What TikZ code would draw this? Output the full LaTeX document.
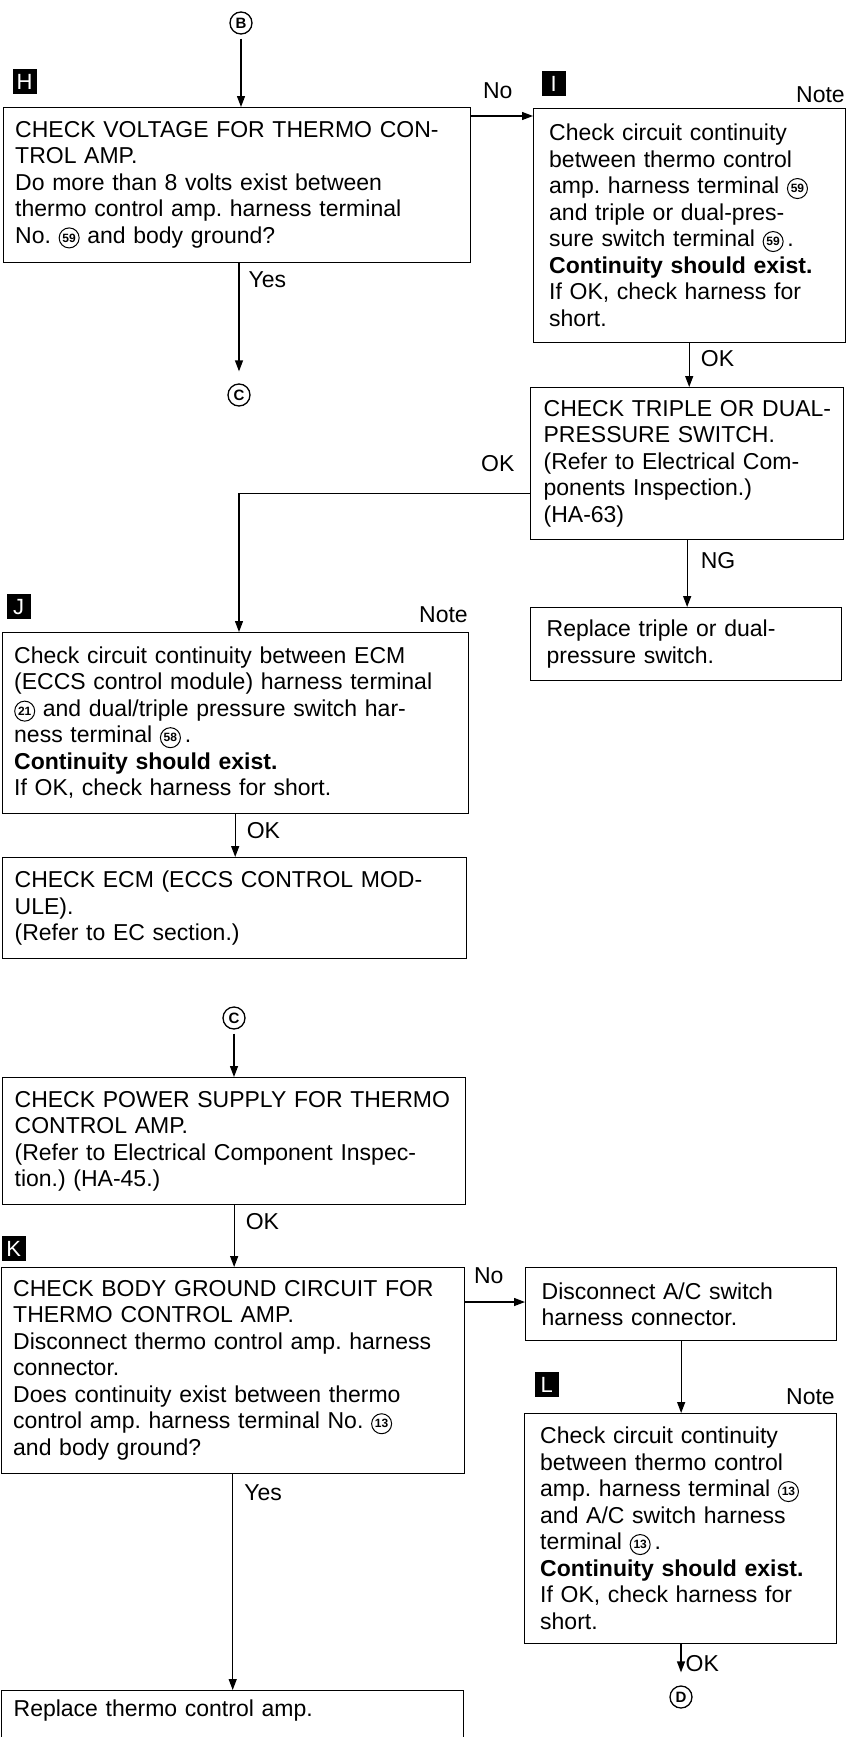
\documentclass[tikz,border=0pt]{standalone}
\usepackage{fontspec}
\setmainfont{Liberation Sans}
\usetikzlibrary{arrows.meta, positioning}
\frenchspacing
\newcommand{\cnum}[1]{\tikz[baseline={([yshift=-1pt]cn.base)}]\node[draw, circle, line width=1pt, inner sep=0pt, minimum size=20pt, text width=14pt, align=center, font=\fontsize{12}{12}\selectfont\bfseries] (cn) {#1};}
\tikzset{
  every picture/.style={line width=1.3pt},
  box/.style={draw, anchor=north west, align=left, text width=#1, inner xsep=12pt, inner ysep=0pt, font=\fontsize{23}{26.5}\selectfont},
  rbox/.style={box=#1, inner xsep=16pt},
  arrow/.style={-{Triangle[length=11pt, width=8pt]}},
  lbl/.style={font=\fontsize{23}{26.5}\selectfont, inner sep=0pt},
  tag/.style={fill=black, text=white, inner sep=0pt, minimum width=24pt, minimum height=25pt, font=\fontsize{22}{22}\selectfont},
  refmark/.style={draw, circle, inner sep=0pt, minimum size=22pt, font=\fontsize{15}{15}\selectfont\bfseries},
}

\begin{document}
\begin{tikzpicture}[x=1pt, y=-1pt]
  \useasboundingbox[fill=white] (0,0) rectangle (848,1737);

  % H: voltage check, No branch to I
  \node[refmark] (B) at (241,23) {B};
  \node[box=443pt, minimum height=155pt] (H) at (3,107) {CHECK VOLTAGE FOR THERMO CON-\\TROL AMP.\\Do more than 8 volts exist between\\thermo control amp. harness terminal\\No. \cnum{59} and body ground?};
  \node[tag, above right=12pt and 9pt of H.north west] (tagH) {H};
  \node[rbox=280pt, minimum height=234pt] (I) at (533,108) {Check circuit continuity\\between thermo control\\amp. harness terminal \cnum{59}\\and triple or dual-pres-\\sure switch terminal \cnum{59}\,.\\\textbf{Continuity should exist.}\\If OK, check harness for\\short.};
  \node[tag, above right=11pt and 8pt of I.north west] (tagI) {I};
  \node[lbl, above left=5pt and 0pt of I.north east] (noteI) {Note};
  \node[refmark] (C1) at (239,395) {C};

  % pressure switch and J
  \node[box=287pt, inner xsep=13pt, minimum height=152pt] (triple) at (530,387) {\mbox{CHECK TRIPLE OR DUAL-}\\PRESSURE SWITCH.\\(Refer to Electrical Com-\\ponents Inspection.)\\(HA-63)};
  \node[rbox=279pt, minimum height=73pt] (reptriple) at (530,607) {Replace triple or dual-\\pressure switch.};
  \node[box=442pt, minimum height=181pt] (J) at (2,632) {Check circuit continuity between ECM\\(ECCS control module) harness terminal\\\cnum{21} and dual/triple pressure switch har-\\ness terminal \cnum{58}\,.\\\textbf{Continuity should exist.}\\If OK, check harness for short.};
  \node[tag, above right=12pt and 4pt of J.north west] (tagJ) {J};
  \node[lbl, above left=9pt and 0pt of J.north east] (noteJ) {Note};
  \node[box=440pt, minimum height=101pt] (ECM) at (2,857) {CHECK ECM (ECCS CONTROL MOD-\\ULE).\\(Refer to EC section.)};

  % C: power supply, K and L
  \node[refmark] (C2) at (234,1018) {C};
  \node[box=439pt, minimum height=127pt] (power) at (2,1077) {\mbox{CHECK POWER SUPPLY FOR THERMO}\\CONTROL AMP.\\(Refer to Electrical Component Inspec-\\tion.) (HA-45.)};
  \node[box=439pt, minimum height=206pt] (K) at (1,1267) {CHECK BODY GROUND CIRCUIT FOR\\THERMO CONTROL AMP.\\Disconnect thermo control amp. harness\\connector.\\Does continuity exist between thermo\\control amp. harness terminal No. \cnum{13}\\and body ground?};
  \node[tag, above right=5pt and 0pt of K.north west] (tagK) {K};
  \node[rbox=279pt, minimum height=73pt] (disc) at (525,1267) {Disconnect A/C switch\\harness connector.};
  \node[rbox=280pt, minimum height=230pt] (L) at (524,1413) {Check circuit continuity\\between thermo control\\amp. harness terminal \cnum{13}\\and A/C switch harness\\terminal \cnum{13}\,.\\\textbf{Continuity should exist.}\\If OK, check harness for\\short.};
  \node[tag, above right=15pt and 10pt of L.north west] (tagL) {L};
  \node[lbl, above left=8pt and 1pt of L.north east] (noteL) {Note};
  \node[refmark] (D) at (681,1697) {D};
  \node[box=438pt, text height=26pt, text depth=60pt] (repamp) at (1,1690) {Replace thermo control amp.};

  % connectors
  \draw[arrow, shorten <=4pt] (B) -- (B |- H.north);
  \draw[arrow] ([yshift=-9pt]H.north east) -- node[lbl, pos=0, anchor=south west, xshift=12pt, yshift=17pt] (noH) {No} ([yshift=-9pt]H.north east -| I.west);
  \draw[arrow, shorten >=12pt] (H.south -| C1) -- node[lbl, right=9pt, pos=0.14] (yesH) {Yes} (C1.north);
  \draw[arrow] (I.south) -- node[lbl, right=11pt, pos=0.37] (okI) {OK} (I.south |- triple.north);
  \draw[arrow] ([yshift=-30pt]triple.west) -| node[lbl, pos=0, anchor=south east, xshift=-15pt, yshift=21pt] (okT) {OK} (J.north -| C1);
  \draw[arrow] (triple.south) -- node[lbl, right=13pt, pos=0.31] (ngT) {NG} (triple.south |- reptriple.north);
  \draw[arrow] (J.south) -- node[lbl, right=11pt, pos=0.39] (okJ) {OK} (J.south |- ECM.north);
  \draw[arrow, shorten <=4pt] (C2) -- (C2 |- power.north);
  \draw[arrow] (power.south) -- node[lbl, right=11pt, pos=0.27] (okP) {OK} (power.south |- K.north);
  \draw[arrow] ([yshift=-35pt]K.north east) -- node[lbl, pos=0, anchor=south west, xshift=9pt, yshift=18pt] (noK) {No} ([yshift=-35pt]K.north east -| disc.west);
  \draw[arrow] (disc.south) -- (disc.south |- L.north);
  \draw[arrow, shorten >=13pt] (L.south -| D) -- node[lbl, right=4pt, pos=0.49] (okL) {OK} (D.north);
  \draw[arrow] (K.south) -- node[lbl, right=11pt, pos=0.09] (yesK) {Yes} (K.south |- repamp.north);
\end{tikzpicture}
\end{document}
